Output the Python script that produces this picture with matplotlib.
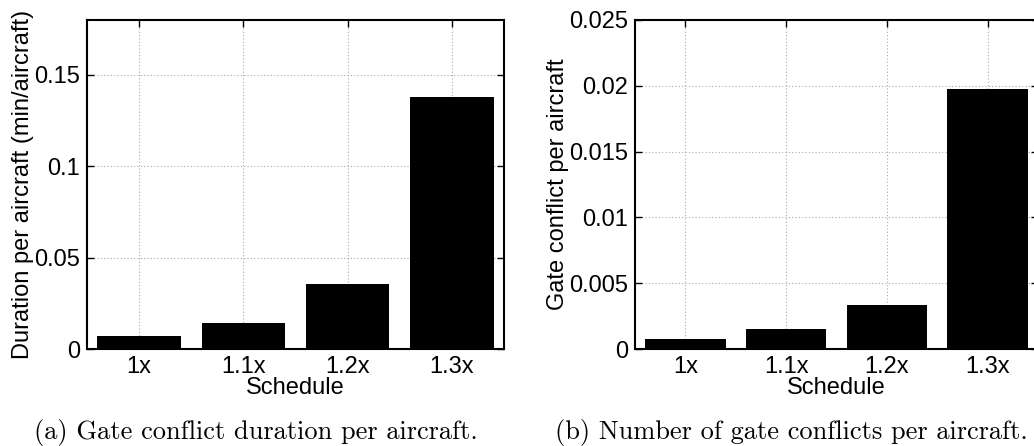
import matplotlib
matplotlib.use('Agg')
import matplotlib.pyplot as plt

schedules = ['1x', '1.1x', '1.2x', '1.3x']
duration = [0.0073, 0.0142, 0.0355, 0.138]
conflicts = [0.00078, 0.0015, 0.00334, 0.01976]

plt.rcParams['font.family'] = ['Liberation Sans', 'DejaVu Sans']
plt.rcParams['font.size'] = 17

W, H = 1034, 446
fig = plt.figure(figsize=(W / 100, H / 100), dpi=100)


def box(x0, y0, x1, y1):
    return [x0 / W, 1 - y1 / H, (x1 - x0) / W, (y1 - y0) / H]


def style(ax, ylim, yticks, ylabels):
    ax.set_xlim(0.5, 4.5)
    ax.set_ylim(*ylim)
    ax.set_xticks(range(1, 5))
    ax.set_xticklabels(schedules)
    ax.set_yticks(yticks)
    ax.set_yticklabels(ylabels)
    ax.tick_params(direction='in', top=True, right=True, length=5, width=1,
                   pad=5)
    ax.grid(True, linestyle=(0, (1, 2)), color='#aaaaaa', linewidth=0.8)
    ax.set_axisbelow(True)
    for s in ax.spines.values():
        s.set_linewidth(1.5)
    ax.set_xlabel('Schedule', labelpad=-1)


ax1 = fig.add_axes(box(87, 20, 504, 349))
ax1.bar(range(1, 5), duration, width=0.8, color='black', zorder=3)
style(ax1, (0, 0.18), [0, 0.05, 0.1, 0.15], ['0', '0.05', '0.1', '0.15'])
ax1.set_ylabel('Duration per aircraft (min/aircraft)', labelpad=0)

ax2 = fig.add_axes(box(635, 20, 1038, 349))
ax2.bar(range(1, 5), conflicts, width=0.8, color='black', zorder=3)
style(ax2, (0, 0.025), [0, 0.005, 0.01, 0.015, 0.02, 0.025],
      ['0', '0.005', '0.01', '0.015', '0.02', '0.025'])
ax2.set_ylabel('Gate conflict per aircraft', labelpad=0)

fig.text(256 / W, 1 - 433 / H, '(a) Gate conflict duration per aircraft.',
         family='cmr10', fontsize=19, ha='center', va='center')
fig.text(791 / W, 1 - 433 / H, '(b) Number of gate conflicts per aircraft.',
         family='cmr10', fontsize=19, ha='center', va='center')

fig.savefig('out.png', dpi=100)
